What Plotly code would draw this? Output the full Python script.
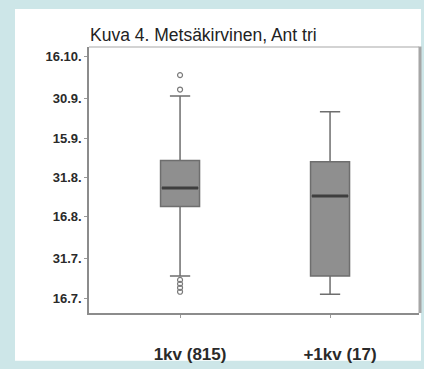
import plotly.graph_objects as go

# Groups on the x axis
groups = ["1kv (815)", "+1kv (17)"]

# Box statistics, as day of the year (non-leap year)
lower_whisker = [205.5, 198.5]
q1 = [232.0, 205.5]
median = [239.0, 236.0]
q3 = [249.5, 249.0]
upper_whisker = [274.0, 268.0]

# Outlying observations per group (day of the year)
outliers = [
    [199.5, 201.0, 202.5, 204.0, 276.5, 282.0],
    [],
]

# Date ticks: day of the year and the label shown for it
tick_days = [197, 212, 228, 243, 258, 273, 289]
tick_labels = ["16.7.", "31.7.", "16.8.", "31.8.", "15.9.", "30.9.", "16.10."]

BOX_W = 0.26
BOX_FILL = "#8f8f8f"
BOX_LINE = "#6e6e6e"
MEDIAN_COLOR = "#3e3e3e"
TEAL = "#cde6e8"

fig = go.Figure()

for i, name in enumerate(groups):
    fig.add_trace(go.Box(
        x=[i],
        q1=[q1[i]], median=[median[i]], q3=[q3[i]],
        lowerfence=[lower_whisker[i]], upperfence=[upper_whisker[i]],
        width=BOX_W, whiskerwidth=0.52,
        fillcolor=BOX_FILL,
        line=dict(color=BOX_LINE, width=1.5),
        boxpoints=False, showlegend=False, name=name,
    ))
    # darker median bar
    fig.add_trace(go.Scatter(
        x=[i - BOX_W / 2 + 0.01, i + BOX_W / 2 - 0.01],
        y=[median[i], median[i]],
        mode="lines", line=dict(color=MEDIAN_COLOR, width=3),
        showlegend=False, hoverinfo="skip",
    ))
    if outliers[i]:
        fig.add_trace(go.Scatter(
            x=[i] * len(outliers[i]), y=outliers[i],
            mode="markers",
            marker=dict(symbol="circle-open", size=5, color="#7a7a7a",
                        line=dict(width=1.2)),
            showlegend=False,
        ))

fig.update_layout(
    width=424, height=369,
    margin=dict(l=89, r=5, t=47, b=49),
    paper_bgcolor=TEAL,
    plot_bgcolor="white",
    font=dict(family="Liberation Sans, Arial, sans-serif", color="#2a2a2a"),
    title=dict(
        text="Kuva 4. Metsäkirvinen, Ant tri",
        x=90 / 424, xanchor="left", xref="container",
        y=1 - 35 / 369, yanchor="middle", yref="container",
        font=dict(size=17.5, color="#222222"),
    ),
    shapes=[
        # white panel behind the chart
        dict(type="rect", xref="paper", yref="paper",
             x0=-0.2242, x1=1.006, y0=-0.1795, y1=1.1429,
             fillcolor="white", line=dict(width=0), layer="below"),
        # top frame edge
        dict(type="line", xref="paper", yref="paper",
             x0=0, x1=1, y0=1, y1=1,
             line=dict(color="#c4c4c4", width=1.5)),
        # right frame edge
        dict(type="line", xref="paper", yref="paper",
             x0=1.003, x1=1.003, y0=0, y1=1.002,
             line=dict(color="#a6a6a6", width=3)),
    ],
)

fig.update_xaxes(
    range=[-0.607, 1.593],
    tickmode="array", tickvals=list(range(len(groups))), ticktext=groups,
    showgrid=False, zeroline=False,
    showline=True, linecolor="#8c8c8c", linewidth=1.5,
    ticks="outside", ticklen=3, tickcolor="#9a9a9a",
    tickfont=dict(size=17, weight="bold", color="#2a2a2a"),
    ticklabelstandoff=22, ticklabelshift=10,
)

fig.update_yaxes(
    range=[191.4, 292.7],
    tickmode="array", tickvals=tick_days, ticktext=tick_labels,
    showgrid=False, zeroline=False,
    showline=True, linecolor="#8c8c8c", linewidth=1.5,
    ticks="outside", ticklen=3, tickcolor="#9a9a9a",
    tickfont=dict(size=13, weight="bold", color="#2a2a2a"),
)

fig.write_html("out.html")
